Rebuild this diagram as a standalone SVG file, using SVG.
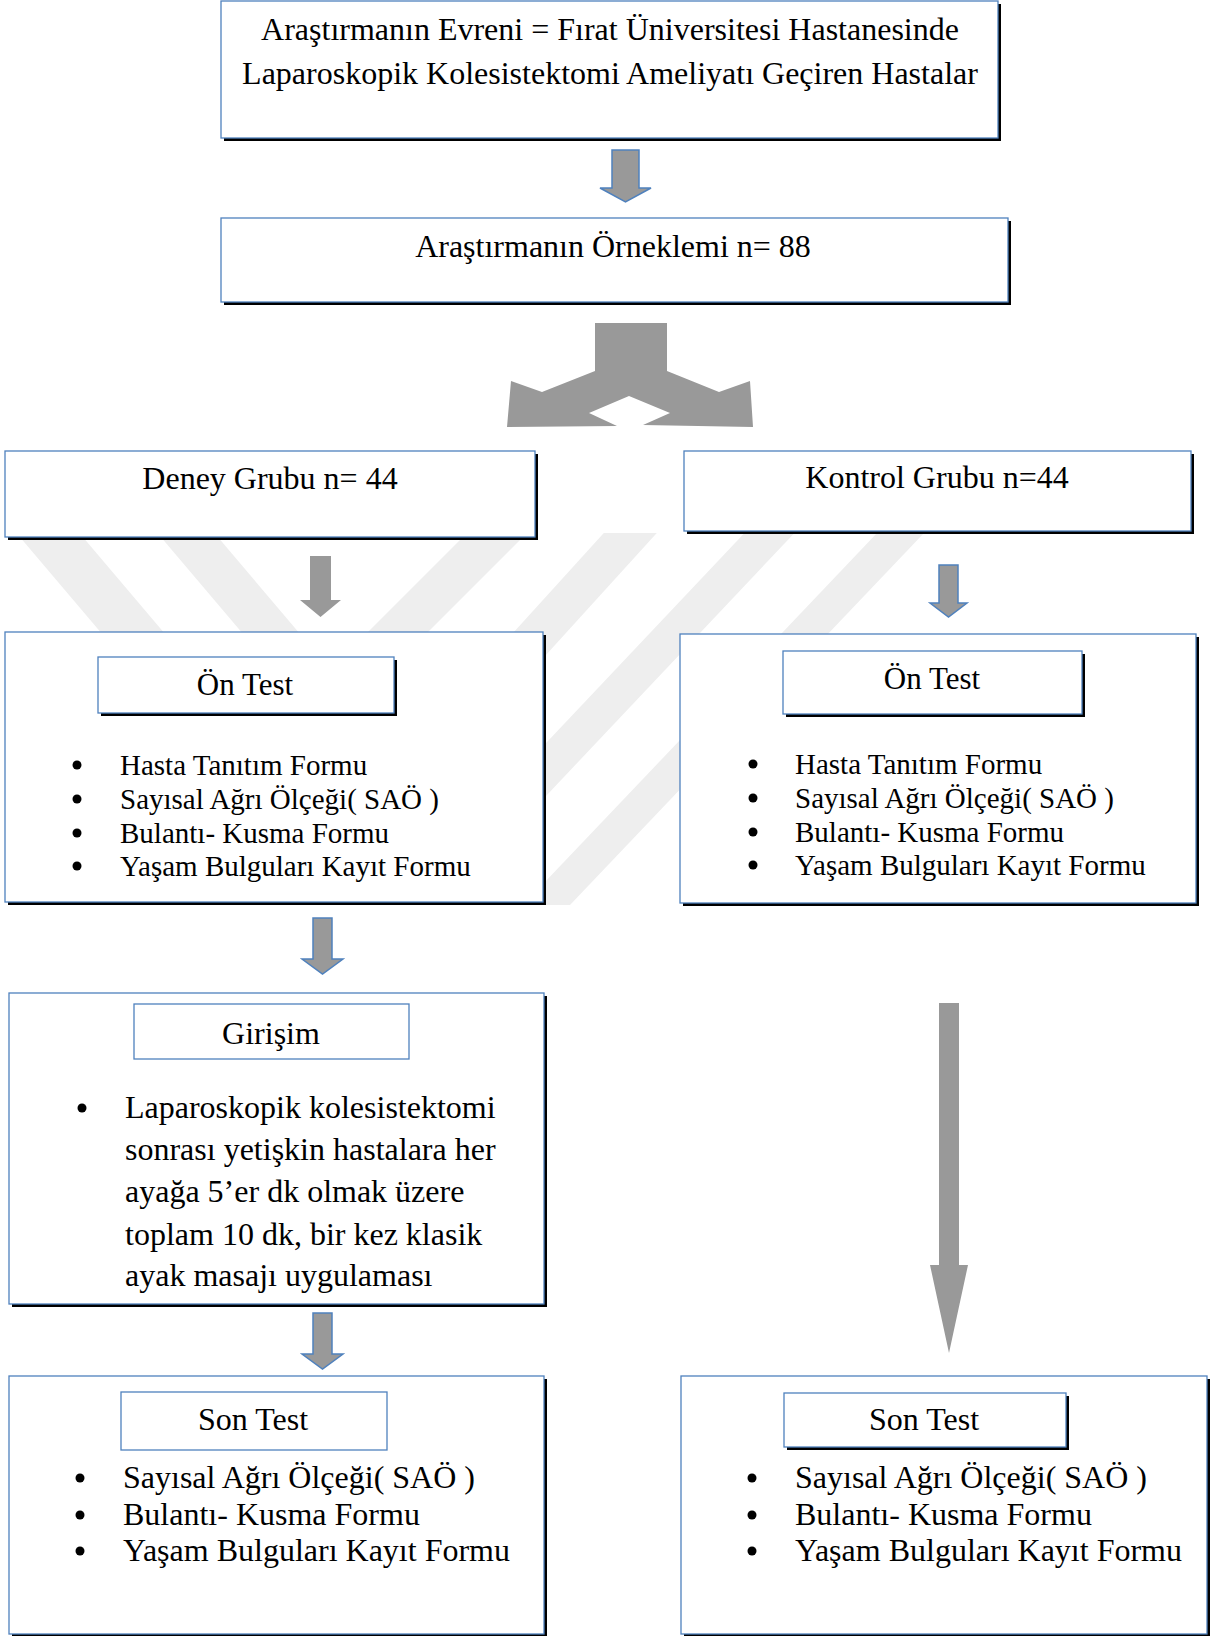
<svg xmlns="http://www.w3.org/2000/svg" width="1222" height="1636" viewBox="0 0 1222 1636">
<style>
.sh{fill:#000}
.bx{fill:#fff;stroke:#4F81BD;stroke-width:1.3}
.t{font-family:"Liberation Serif","Times New Roman",serif;fill:#000;font-size:32px}
.m{text-anchor:middle}
.s29{font-size:29px}
.s31{font-size:31px}
.arr{fill:#999}
.arrb{fill:#999;stroke:#4F81BD;stroke-width:1.5}
.wm{fill:#eeeeee}
.bl{fill:#000}
</style>
<defs>
<clipPath id="wmclip"><rect x="0" y="533" width="1222" height="372"/></clipPath>
</defs>
<rect width="1222" height="1636" fill="#fff"/>
<g id="watermark" clip-path="url(#wmclip)">
<polygon class="wm" points="-37,470 26,470 395,905 332,905"/>
<polygon class="wm" points="104,470 161,470 530,905 473,905"/>
<polygon class="wm" points="530,470 590,470 155,905 95,905"/>
<polygon class="wm" points="661,470 714,470 319,905 266,905"/>
<polygon class="wm" points="804,470 854,470 443,905 393,905"/>
<polygon class="wm" points="937,470 984,470 570,905 523,905"/>
</g>
<g id="connectors">
<path class="arrb" d="M612,150 H639 V188 H651 L625.5,202 L600,188 H612 Z"/>
<path class="arr" d="M595,323 H667 V371 L719,392 L750,381 L753,427 L643,425 L670,413 L629,396 L589,413 L617,426 L507,427 L511,381 L542,392 L595,371 Z"/>
<path class="arr" d="M310,556 H331 V600 H341 L320.5,617 L300,600 H310 Z"/>
<path class="arrb" d="M939,565 H958 V603 H967 L948.5,617 L930,603 H939 Z"/>
<path class="arrb" d="M313,918 H332 V959 H343 L322.5,974 L302,959 H313 Z"/>
<path class="arr" d="M939,1003 H959 V1265 H968 L949,1353 L930,1265 H939 Z"/>
<path class="arrb" d="M313,1313 H332 V1354 H343 L322.5,1369 L302,1354 H313 Z"/>
</g>
<g id="evren">
<rect class="sh" x="224" y="4" width="777" height="137"/>
<rect class="bx" x="221" y="1" width="777" height="137"/>
<text class="t m" x="610" y="40">Araştırmanın Evreni = Fırat Üniversitesi Hastanesinde</text>
<text class="t m" x="610" y="84">Laparoskopik Kolesistektomi Ameliyatı Geçiren Hastalar</text>
</g>
<g id="orneklem">
<rect class="sh" x="224" y="221" width="787" height="84"/>
<rect class="bx" x="221" y="218" width="787" height="84"/>
<text class="t m" x="613" y="257">Araştırmanın Örneklemi n= 88</text>
</g>
<g id="deney">
<rect class="sh" x="8" y="454" width="530" height="86"/>
<rect class="bx" x="5" y="451" width="530" height="86"/>
<text class="t m" x="270" y="489">Deney Grubu n= 44</text>
</g>
<g id="kontrol">
<rect class="sh" x="687" y="454" width="507" height="80"/>
<rect class="bx" x="684" y="451" width="507" height="80"/>
<text class="t m" x="937" y="488">Kontrol Grubu n=44</text>
</g>
<g id="deney-ontest">
<rect class="sh" x="8" y="635" width="538" height="270"/>
<rect class="bx" x="5" y="632" width="538" height="270"/>
<rect class="sh" x="101" y="660" width="296" height="56"/>
<rect class="bx" x="98" y="657" width="296" height="56"/>
<text class="t m s31" x="245" y="695">Ön Test</text>
<circle class="bl" cx="77" cy="765" r="4.5"/>
<circle class="bl" cx="77" cy="799" r="4.5"/>
<circle class="bl" cx="77" cy="833" r="4.5"/>
<circle class="bl" cx="77" cy="866" r="4.5"/>
<text class="t s29" x="120" y="775">Hasta Tanıtım Formu</text>
<text class="t s29" x="120" y="809">Sayısal Ağrı Ölçeği( SAÖ )</text>
<text class="t s29" x="120" y="843">Bulantı- Kusma Formu</text>
<text class="t s29" x="120" y="876">Yaşam Bulguları Kayıt Formu</text>
</g>
<g id="kontrol-ontest">
<rect class="sh" x="683" y="637" width="516" height="269"/>
<rect class="bx" x="680" y="634" width="516" height="269"/>
<rect class="sh" x="786" y="654" width="299" height="63"/>
<rect class="bx" x="783" y="651" width="299" height="63"/>
<text class="t m s31" x="932" y="689">Ön Test</text>
<circle class="bl" cx="753" cy="764" r="4.5"/>
<circle class="bl" cx="753" cy="798" r="4.5"/>
<circle class="bl" cx="753" cy="832" r="4.5"/>
<circle class="bl" cx="753" cy="865" r="4.5"/>
<text class="t s29" x="795" y="774">Hasta Tanıtım Formu</text>
<text class="t s29" x="795" y="808">Sayısal Ağrı Ölçeği( SAÖ )</text>
<text class="t s29" x="795" y="842">Bulantı- Kusma Formu</text>
<text class="t s29" x="795" y="875">Yaşam Bulguları Kayıt Formu</text>
</g>
<g id="girisim">
<rect class="sh" x="12" y="996" width="535" height="311"/>
<rect class="bx" x="9" y="993" width="535" height="311"/>
<rect class="bx" x="134" y="1004" width="275" height="55"/>
<text class="t m" x="271" y="1044">Girişim</text>
<circle class="bl" cx="82" cy="1108" r="4.5"/>
<text class="t" x="125" y="1118">Laparoskopik kolesistektomi</text>
<text class="t" x="125" y="1160">sonrası yetişkin hastalara her</text>
<text class="t" x="125" y="1202">ayağa 5’er dk olmak üzere</text>
<text class="t" x="125" y="1245">toplam 10 dk, bir kez klasik</text>
<text class="t" x="125" y="1286">ayak masajı uygulaması</text>
</g>
<g id="deney-sontest">
<rect class="sh" x="12" y="1379" width="535" height="258"/>
<rect class="bx" x="9" y="1376" width="535" height="258"/>
<rect class="bx" x="121" y="1392" width="266" height="58"/>
<text class="t m" x="253" y="1430">Son Test</text>
<circle class="bl" cx="80" cy="1478" r="4.5"/>
<circle class="bl" cx="80" cy="1515" r="4.5"/>
<circle class="bl" cx="80" cy="1551" r="4.5"/>
<text class="t" x="123" y="1488">Sayısal Ağrı Ölçeği( SAÖ )</text>
<text class="t" x="123" y="1525">Bulantı- Kusma Formu</text>
<text class="t" x="123" y="1561">Yaşam Bulguları Kayıt Formu</text>
</g>
<g id="kontrol-sontest">
<rect class="sh" x="684" y="1379" width="526" height="258"/>
<rect class="bx" x="681" y="1376" width="526" height="258"/>
<rect class="sh" x="787" y="1396" width="282" height="54"/>
<rect class="bx" x="784" y="1393" width="282" height="54"/>
<text class="t m" x="924" y="1430">Son Test</text>
<circle class="bl" cx="752" cy="1478" r="4.5"/>
<circle class="bl" cx="752" cy="1515" r="4.5"/>
<circle class="bl" cx="752" cy="1551" r="4.5"/>
<text class="t" x="795" y="1488">Sayısal Ağrı Ölçeği( SAÖ )</text>
<text class="t" x="795" y="1525">Bulantı- Kusma Formu</text>
<text class="t" x="795" y="1561">Yaşam Bulguları Kayıt Formu</text>
</g>
</svg>
